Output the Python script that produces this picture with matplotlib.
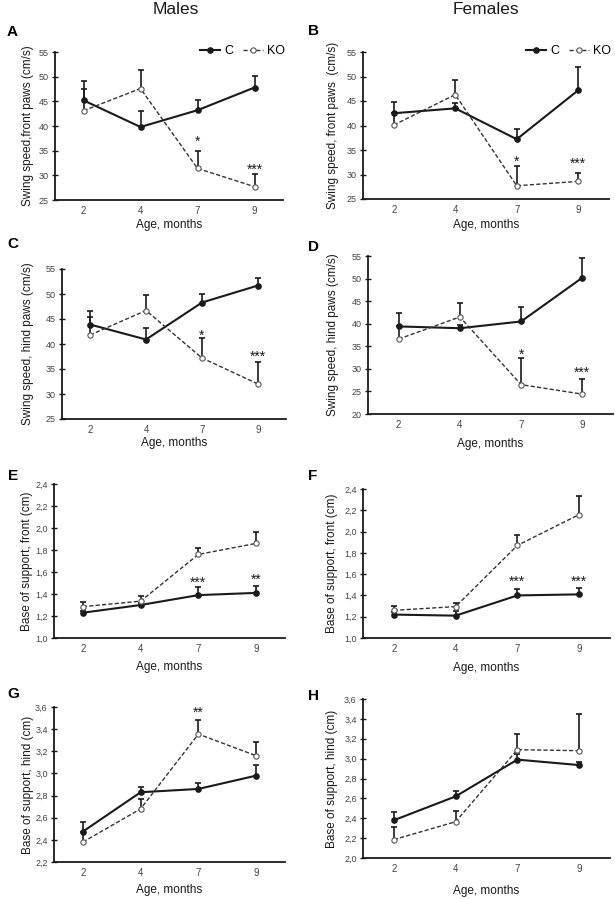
import matplotlib
matplotlib.use("Agg")
import matplotlib.pyplot as plt
from matplotlib.ticker import FixedLocator, FuncFormatter

plt.rcParams["font.family"] = ["Liberation Sans Narrow", "Liberation Sans", "DejaVu Sans"]

W, H = 615, 899

months = ["2", "4", "7", "9"]

# --- swing speed, front paws (cm/s) ---
males_front_c = [45.2, 39.8, 43.2, 47.8]
males_front_c_err = [3.9, 3.2, 2.1, 2.3]
males_front_ko = [43.1, 47.6, 31.4, 27.7]
males_front_ko_err = [4.3, 3.7, 3.6, 2.5]

females_front_c = [42.5, 43.5, 37.2, 47.2]
females_front_c_err = [2.2, 1.0, 2.0, 4.8]
females_front_ko = [40.1, 46.3, 27.7, 28.6]
females_front_ko_err = [2.4, 3.0, 4.0, 1.7]

# --- swing speed, hind paws (cm/s) ---
males_hind_c = [43.9, 40.9, 48.3, 51.7]
males_hind_c_err = [2.8, 2.4, 1.8, 1.6]
males_hind_ko = [41.8, 46.7, 37.2, 32.0]
males_hind_ko_err = [3.7, 3.2, 4.1, 4.5]

females_hind_c = [39.4, 39.0, 40.5, 50.2]
females_hind_c_err = [2.9, 0.8, 3.3, 4.3]
females_hind_ko = [36.6, 41.5, 26.5, 24.4]
females_hind_ko_err = [2.8, 3.1, 5.9, 3.4]

# --- base of support, front (cm) ---
males_bos_front_c = [1.23, 1.30, 1.39, 1.41]
males_bos_front_c_err = [0.02, 0.02, 0.07, 0.065]
males_bos_front_ko = [1.285, 1.335, 1.76, 1.86]
males_bos_front_ko_err = [0.045, 0.045, 0.06, 0.105]

females_bos_front_c = [1.22, 1.21, 1.40, 1.41]
females_bos_front_c_err = [0.02, 0.04, 0.06, 0.06]
females_bos_front_ko = [1.26, 1.295, 1.87, 2.16]
females_bos_front_ko_err = [0.04, 0.03, 0.095, 0.17]

# --- base of support, hind (cm) ---
males_bos_hind_c = [2.475, 2.83, 2.86, 2.98]
males_bos_hind_c_err = [0.085, 0.05, 0.05, 0.10]
males_bos_hind_ko = [2.38, 2.68, 3.355, 3.16]
males_bos_hind_ko_err = [0.09, 0.09, 0.13, 0.12]

females_bos_hind_c = [2.38, 2.62, 2.99, 2.935]
females_bos_hind_c_err = [0.085, 0.055, 0.06, 0.035]
females_bos_hind_ko = [2.185, 2.365, 3.09, 3.08]
females_bos_hind_ko_err = [0.125, 0.11, 0.155, 0.365]

# significance marks: (label, month index, y value)
stars_a = [("*", 2, 37.6), ("***", 3, 31.9)]
stars_b = [("*", 2, 33.3), ("***", 3, 33.0)]
stars_c = [("*", 2, 42.4), ("***", 3, 38.2)]
stars_d = [("*", 2, 33.9), ("***", 3, 30.0)]
stars_e = [("***", 2, 1.54), ("**", 3, 1.56)]
stars_f = [("***", 2, 1.565), ("***", 3, 1.565)]
stars_g = [("**", 2, 3.585)]
stars_h = []

ylabel_front = "Swing speed,front paws (cm/s)"
ylabel_front_f = "Swing speed, front paws  (cm/s)"
ylabel_hind = "Swing speed, hind paws (cm/s)"
ylabel_bos_front = "Base of support, front (cm)"
ylabel_bos_hind = "Base of support, hind (cm)"

swing_ticks = [25, 30, 35, 40, 45, 50, 55]
swing_ticks_d = [20, 25, 30, 35, 40, 45, 50, 55]
bos_front_ticks = [1.0, 1.2, 1.4, 1.6, 1.8, 2.0, 2.2, 2.4]
bos_hind_ticks_g = [2.2, 2.4, 2.6, 2.8, 3.0, 3.2, 3.4, 3.6]
bos_hind_ticks_h = [2.0, 2.2, 2.4, 2.6, 2.8, 3.0, 3.2, 3.4, 3.6]

# panel boxes in pixels: left, right, top, bottom; letter position; ylabel / xlabel offsets
panels = [
    ("A", (55, 283, 52, 200), (7, 36), males_front_c, males_front_c_err, males_front_ko, males_front_ko_err,
     swing_ticks, ylabel_front, stars_a, -27, 25, True),
    ("B", (363, 609, 52, 199), (308, 35), females_front_c, females_front_c_err, females_front_ko,
     females_front_ko_err, swing_ticks, ylabel_front_f, stars_b, -30, 26, True),
    ("C", (62, 286, 269, 419), (7, 248), males_hind_c, males_hind_c_err, males_hind_ko, males_hind_ko_err,
     swing_ticks, ylabel_hind, stars_c, -34, 24, False),
    ("D", (368, 613, 256, 414), (308, 251), females_hind_c, females_hind_c_err, females_hind_ko,
     females_hind_ko_err, swing_ticks_d, ylabel_hind, stars_d, -35, 30, False),
    ("E", (54, 285, 484, 638), (8, 480), males_bos_front_c, males_bos_front_c_err, males_bos_front_ko,
     males_bos_front_ko_err, bos_front_ticks, ylabel_bos_front, stars_e, -27, 29, False),
    ("F", (363, 610, 489, 638), (308, 480), females_bos_front_c, females_bos_front_c_err, females_bos_front_ko,
     females_bos_front_ko_err, bos_front_ticks, ylabel_bos_front, stars_f, -31, 30, False),
    ("G", (54, 285, 707, 862), (7, 698), males_bos_hind_c, males_bos_hind_c_err, males_bos_hind_ko,
     males_bos_hind_ko_err, bos_hind_ticks_g, ylabel_bos_hind, stars_g, -26, 28, False),
    ("H", (363, 610, 699, 858), (308, 700), females_bos_hind_c, females_bos_hind_c_err, females_bos_hind_ko,
     females_bos_hind_ko_err, bos_hind_ticks_h, ylabel_bos_hind, stars_h, -31, 33, False),
]

INK = "#1a1a1a"


def upper_errors(ax, x, mean, err, zorder):
    # only the upper half of each error bar is drawn, as in the original figure
    tops = [m + e for m, e in zip(mean, err)]
    ax.vlines(x, mean, tops, color=INK, lw=1.2, zorder=zorder)
    ax.plot(x, tops, ls="none", marker="_", ms=4.5, mew=1.2, color=INK, zorder=zorder)


def draw_panel(fig, letter, box, letter_pos, c, c_err, ko, ko_err, ticks, ylabel, stars,
               ylab_dx, xlab_dy, legend):
    left, right, top, bottom = box
    ax = fig.add_axes([left / W, 1 - bottom / H, (right - left) / W, (bottom - top) / H])
    x = list(range(len(months)))

    upper_errors(ax, x, c, c_err, 2)
    upper_errors(ax, x, ko, ko_err, 2)
    ax.plot(x, c, color=INK, lw=1.5, marker="o", ms=3.8, mfc=INK, mec=INK, zorder=3, label="C")
    ax.plot(x, ko, color="#333333", lw=1.0, ls=(0, (3, 1.6)), marker="o", ms=3.8, mfc="white",
            mec="#555555", mew=0.8, zorder=4, label="KO")

    for text, i, y in stars:
        ax.annotate(text, (i, y), xytext=(0, -5.6), textcoords="offset points", ha="center",
                    va="baseline", fontsize=10, family="Liberation Sans", color=INK)

    ax.set_xlim(-0.5, 3.5)
    ax.set_ylim(ticks[0], ticks[-1])
    ax.set_xticks(x)
    ax.set_xticklabels(months)
    ax.yaxis.set_major_locator(FixedLocator(ticks))
    if isinstance(ticks[0], float):
        ax.yaxis.set_major_formatter(FuncFormatter(lambda v, p: f"{v:.1f}".replace(".", ",")))
    else:
        ax.yaxis.set_major_formatter(FuncFormatter(lambda v, p: f"{v:.0f}"))

    for side in ("top", "right"):
        ax.spines[side].set_visible(False)
    for side in ("left", "bottom"):
        ax.spines[side].set_linewidth(1.3)
        ax.spines[side].set_color(INK)
    ax.tick_params(axis="y", direction="inout", length=4, width=1.0, color=INK, pad=2.5,
                   labelsize=6.5, labelcolor="#444444")
    ax.tick_params(axis="x", length=0, pad=4, labelsize=7, labelcolor="#444444")

    width_px = right - left
    height_px = bottom - top
    ax.set_ylabel(ylabel, fontsize=8.5, family="Liberation Sans", color=INK, va="center")
    ax.yaxis.set_label_coords(ylab_dx / width_px, 0.5)
    ax.set_xlabel("Age, months", fontsize=8.5, color=INK, va="center")
    ax.xaxis.set_label_coords(0.5, -xlab_dy / height_px)

    if legend:
        ax.legend(loc="upper right", bbox_to_anchor=(1.01, 1.045), ncol=2, frameon=False,
                  fontsize=9, handlelength=1.6, handletextpad=0.35, columnspacing=0.8,
                  borderaxespad=0, borderpad=0, numpoints=1)

    fig.text(letter_pos[0] / W, 1 - letter_pos[1] / H, letter, fontsize=11, fontweight="bold",
             family="Liberation Sans", ha="left", va="baseline", color="black")
    return ax


fig = plt.figure(figsize=(W / 100, H / 100), dpi=100)

for p in panels:
    draw_panel(fig, *p)

fig.text(176 / W, 1 - 9 / H, "Males", fontsize=12.5, family="Liberation Sans",
         ha="center", va="center", color=INK)
fig.text(486 / W, 1 - 9 / H, "Females", fontsize=12.5, family="Liberation Sans",
         ha="center", va="center", color=INK)

fig.savefig("out.png", dpi=100)
